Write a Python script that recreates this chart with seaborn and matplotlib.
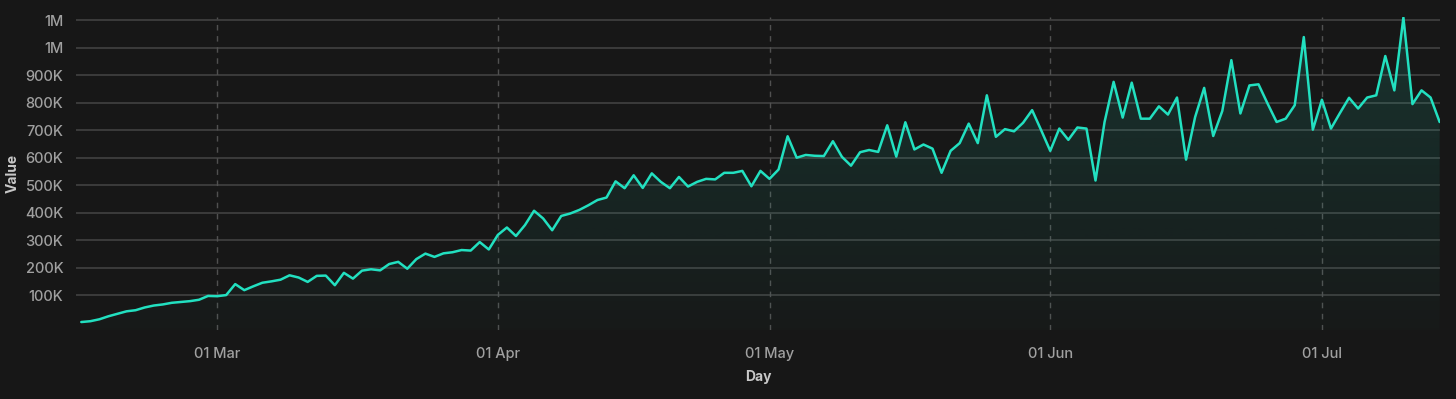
import numpy as np
import pandas as pd
import matplotlib
matplotlib.use('Agg')
import matplotlib.pyplot as plt
import matplotlib.dates as mdates
from matplotlib.ticker import FuncFormatter, FixedLocator
import seaborn as sns

# daily values in thousands, starting 14 Feb
start_date = '2023-02-14'
values_k = [
    2, 5, 12, 23, 32, 41, 45, 55, 62, 66, 72, 75, 78, 83, 97, 96, 100, 140, 118, 132,
    145, 150, 156, 172, 164, 148, 170, 171, 136, 181, 160, 189, 194, 190, 213, 221, 196, 231, 251, 239,
    252, 256, 264, 262, 293, 266, 319, 346, 315, 355, 407, 379, 336, 388, 397, 410, 427, 446, 455, 514,
    489, 536, 490, 543, 512, 489, 530, 495, 512, 523, 521, 545, 545, 552, 496, 552, 523, 557, 678, 600,
    610, 607, 606, 660, 603, 571, 620, 628, 621, 718, 604, 729, 630, 648, 633, 545, 625, 653, 724, 653,
    827, 676, 704, 696, 727, 773, 700, 625, 706, 665, 710, 706, 517, 730, 876, 746, 873, 742, 742, 787,
    757, 819, 593, 748, 854, 679, 770, 955, 761, 863, 867, 797, 730, 742, 791, 1039, 702, 811, 706, 763,
    818, 779, 819, 827, 970, 845, 1110, 795, 845, 819, 730,
]
y_ticks = [100_000 * k for k in range(1, 12)]

df = pd.DataFrame({
    'Day': pd.date_range(start_date, periods=len(values_k), freq='D'),
    'Value': np.array(values_k) * 1000.0,
})

bg = '#171717'
line_color = '#22e0c0'

sns.set_style('dark')
plt.rcParams['font.family'] = ['Inter', 'DejaVu Sans']

fig = plt.figure(figsize=(14.56, 3.99), dpi=100, facecolor=bg)
ax = fig.add_axes([76 / 1456, 1 - 330 / 399, (1440 - 76) / 1456, (330 - 17) / 399])
ax.set_facecolor(bg)

x0 = df['Day'].iloc[0] - pd.Timedelta(hours=14)
x1 = df['Day'].iloc[-1] + pd.Timedelta(hours=1)
ax.set_xlim(x0, x1)
ax.set_ylim(-27_000, 1_112_000)

# gradient fill under the line
fill = ax.fill_between(df['Day'], df['Value'], -27_000, facecolor='none', edgecolor='none')
grad = np.zeros((256, 2, 4))
rgb = matplotlib.colors.to_rgb(line_color)
grad[..., 0], grad[..., 1], grad[..., 2] = rgb
grad[..., 3] = np.linspace(0.15, 0.015, 256)[:, None]
xl = mdates.date2num([x0, x1])
img = ax.imshow(grad, aspect='auto', extent=[xl[0], xl[1], -27_000, 1_112_000],
                origin='upper', zorder=1)
img.set_clip_path(fill.get_paths()[0], transform=ax.transData)

sns.lineplot(data=df, x='Day', y='Value', ax=ax, color=line_color, linewidth=1.8, zorder=3)

# grid
ax.yaxis.set_major_locator(FixedLocator(y_ticks))
ax.yaxis.set_major_formatter(FuncFormatter(
    lambda v, p: f'{v / 1e6:.0f}M' if v >= 1e6 else f'{v / 1e3:.0f}K'))
ax.xaxis.set_major_locator(mdates.MonthLocator())
ax.xaxis.set_major_formatter(mdates.DateFormatter('%d %b'))
ax.grid(False)
for yv in y_ticks:
    ax.axhline(yv, color='#3c3c3c', linewidth=1.4, zorder=0.5)
for m in pd.date_range('2023-03-01', '2023-07-01', freq='MS'):
    ax.axvline(m, color='#505050', linewidth=1.0, linestyle=(0, (4, 4)), zorder=0.6)

for s in ax.spines.values():
    s.set_visible(False)
ax.tick_params(axis='both', length=0, labelsize=10.5, colors='#a0a0a0')
ax.tick_params(axis='y', pad=9)
ax.tick_params(axis='x', pad=12)
for lab in ax.get_xticklabels() + ax.get_yticklabels():
    lab.set_fontweight('medium')

ax.set_xlabel('Day', color='#c8c8c8', fontsize=10, fontweight='bold', labelpad=7)
ax.set_ylabel('Value', color='#c8c8c8', fontsize=10, fontweight='bold', labelpad=4)

fig.savefig('out.png', dpi=100, facecolor=bg)
